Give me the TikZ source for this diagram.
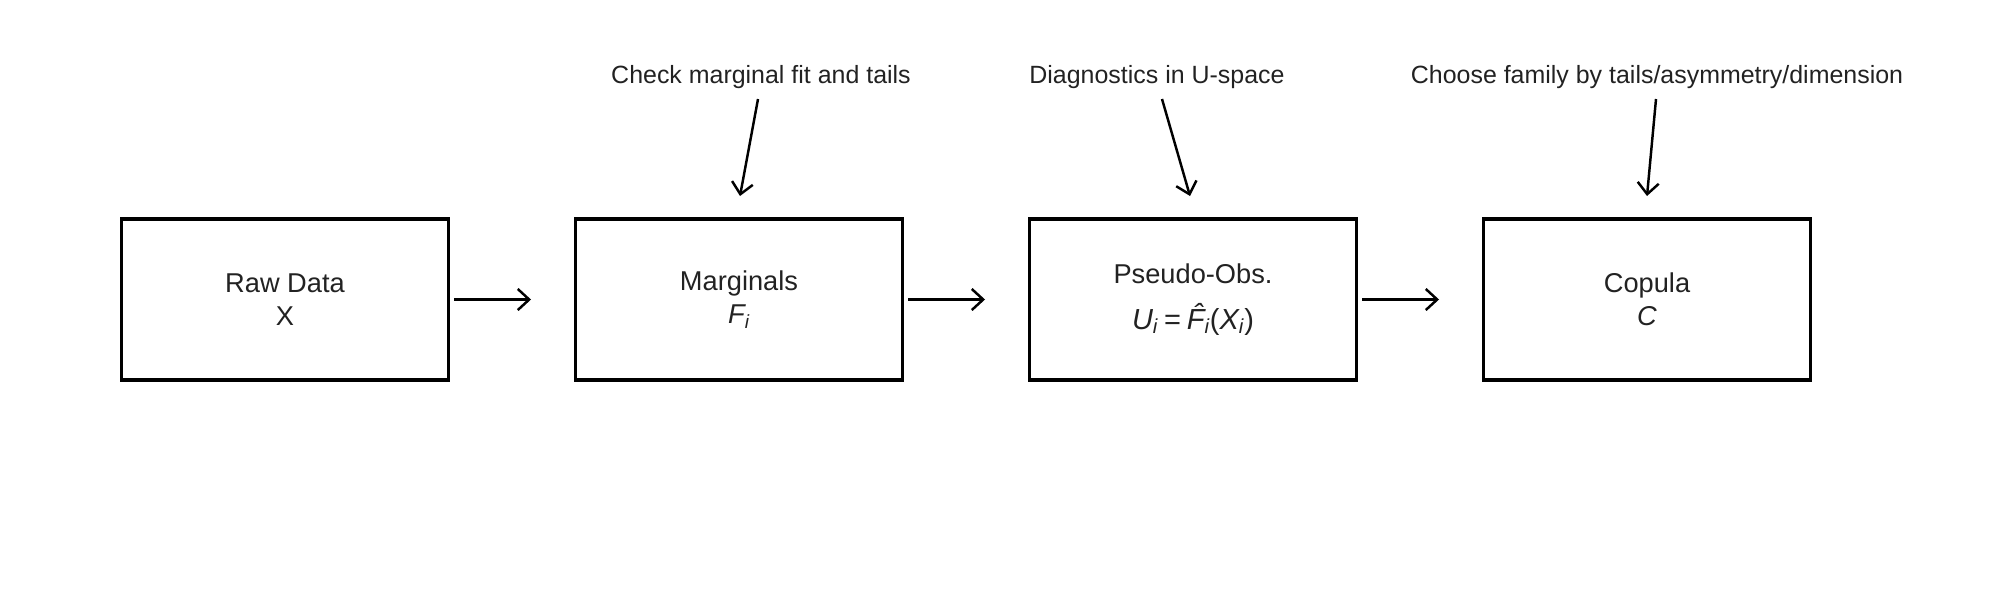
\documentclass[tikz,border=0pt]{standalone}
\usepackage{fontspec}
\setmainfont{Liberation Sans}
\usetikzlibrary{arrows.meta}
\definecolor{txt}{HTML}{222222}
\newcommand{\iv}[1]{{\itshape #1}}
\newcommand{\sbi}[1]{\textsubscript{\itshape #1}}
\begin{document}
\begin{tikzpicture}[x=0.02cm,y=-0.02cm,
  stagebox/.style={draw=black, line width=1.9pt, minimum width=6.54cm, minimum height=3.22cm,
    inner sep=0pt, align=center, text=txt, font=\fontsize{15.5}{19}\selectfont},
  note/.style={text=txt, font=\fontsize{14.2}{17}\selectfont, inner sep=0pt},
  flow/.style={line width=1.4pt, -{Straight Barb[length=6.5pt,width=12pt,line width=1.4pt]}},
]
\useasboundingbox (0,0) rectangle (2000,600);
\node[stagebox] (b1) at (285,299.5) {Raw Data\\X};
\node[stagebox] (b2) at (739,299.5) {Marginals\\\iv{F}\sbi{i}};
\node[stagebox] (b3) at (1193,299.5) {Pseudo-Obs.\\[7pt]{\fontsize{16.5}{20}\selectfont\iv{U}\sbi{i}\hspace{0.2em}=\hspace{0.2em}\iv{\^F}\sbi{i}(\iv{X}\sbi{i})}};
\node[stagebox] (b4) at (1647,299.5) {Copula\\\iv{C}};

\node[note] (t1) at (761,77) {Check marginal fit and tails};
\node[note] (t2) at (1157,77) {Diagnostics in U-space};
\node[note] (t3) at (1657,77) {Choose family by tails/asymmetry/dimension};

\coordinate (s1) at (758,99);  \coordinate (e1) at (740,196);
\coordinate (s2) at (1162,99); \coordinate (e2) at (1190,196);
\coordinate (s3) at (1656,99); \coordinate (e3) at (1647,196);
\draw[flow] (s1) -- (e1);
\draw[flow] (s2) -- (e2);
\draw[flow] (s3) -- (e3);

\coordinate (h1) at (531,299.5);
\coordinate (h2) at (985,299.5);
\coordinate (h3) at (1439,299.5);
\draw[flow, shorten <=0.08cm] (b1.east) -- (h1);
\draw[flow, shorten <=0.08cm] (b2.east) -- (h2);
\draw[flow, shorten <=0.08cm] (b3.east) -- (h3);
\end{tikzpicture}
\end{document}
